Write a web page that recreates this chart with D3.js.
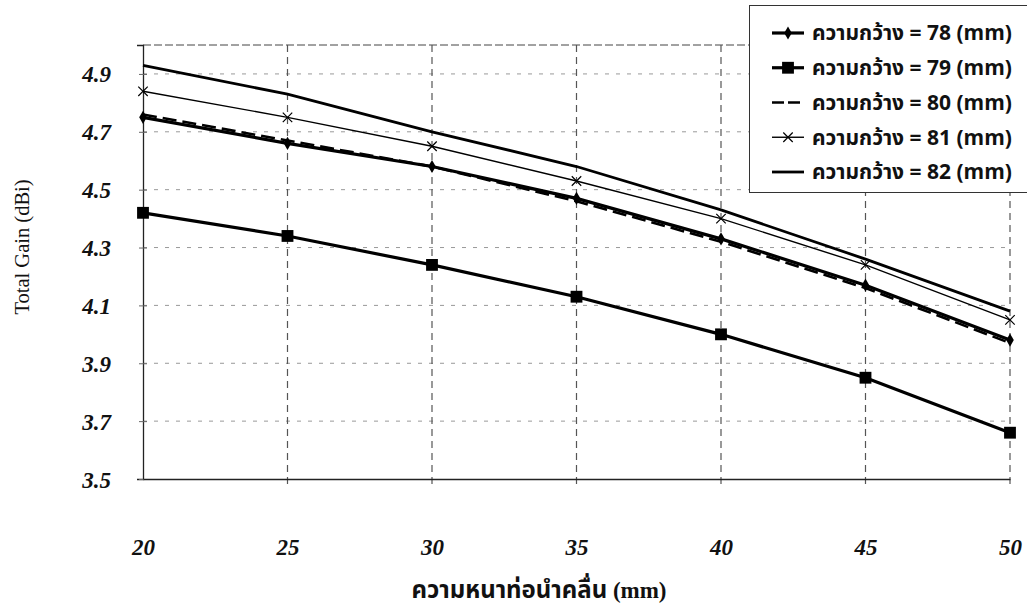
<!DOCTYPE html>
<html><head><meta charset="utf-8">
<script src="https://cdn.jsdelivr.net/npm/d3@7"></script>
<style>body{margin:0;background:#fff;overflow:hidden}</style>
</head><body><svg id="c" width="1027" height="616"></svg>
<script>
const thickness = [20, 25, 30, 35, 40, 45, 50];
const w78 = [4.75, 4.66, 4.58, 4.47, 4.33, 4.17, 3.98];
const w79 = [4.42, 4.34, 4.24, 4.13, 4.00, 3.85, 3.66];
const w80 = [4.76, 4.67, 4.58, 4.46, 4.32, 4.16, 3.97];
const w81 = [4.84, 4.75, 4.65, 4.53, 4.40, 4.24, 4.05];
const w82 = [4.93, 4.83, 4.70, 4.58, 4.43, 4.26, 4.08];
const seriesLabels = ["ความกว้าง = 78 (mm)", "ความกว้าง = 79 (mm)", "ความกว้าง = 80 (mm)", "ความกว้าง = 81 (mm)", "ความกว้าง = 82 (mm)"];
const yTicks = [3.5, 3.7, 3.9, 4.1, 4.3, 4.5, 4.7, 4.9];
const xTicks = [20, 25, 30, 35, 40, 45, 50];
const xTitleThai = "ความหนาท่อนำคลื่น";
const xTitleUnit = " (mm)";
const yTitle = "Total Gain (dBi)";

const styles = [
  {w: 3.2, dash: null, marker: "diamond"},
  {w: 3.2, dash: null, marker: "square"},
  {w: 2.6, dash: "14,6", marker: null},
  {w: 1.4, dash: null, marker: "times"},
  {w: 2.8, dash: null, marker: null}
];
const seriesData = [w78, w79, w80, w81, w82];

const svg = d3.select("#c");
const x = d3.scaleLinear().domain([20, 50]).range([143, 1010]);
const y = d3.scaleLinear().domain([3.5, 5.0]).range([479, 45]);

const tickFont = "'Liberation Serif','Times New Roman',serif";
const thaiFont = "'Noto Sans Thai','Tahoma','Liberation Sans Narrow','Liberation Sans',sans-serif";
const legendFont = "'Liberation Sans Narrow','Arial Narrow','Noto Sans Thai',sans-serif";

// horizontal gridlines
svg.append("g").selectAll("line").data(yTicks.slice(1)).join("line")
  .attr("x1", x(20)).attr("x2", x(50))
  .attr("y1", d => y(d)).attr("y2", d => y(d))
  .attr("stroke", "#999").attr("stroke-width", 1).attr("stroke-dasharray", "4,7");
// top border
svg.append("line").attr("x1", x(20)).attr("x2", x(50)).attr("y1", y(5.0)).attr("y2", y(5.0))
  .attr("stroke", "#444").attr("stroke-width", 1).attr("stroke-dasharray", "8,3");
// vertical gridlines
svg.append("g").selectAll("line").data(xTicks.slice(1)).join("line")
  .attr("x1", d => x(d)).attr("x2", d => x(d))
  .attr("y1", y(5.0)).attr("y2", y(3.5) + 8)
  .attr("stroke", "#555").attr("stroke-width", 1.2).attr("stroke-dasharray", "7,5");

// axes
const yAxis = d3.axisLeft(y).tickValues(yTicks).tickSize(6).tickFormat(d3.format(".1f"));
const gy = svg.append("g").attr("transform", `translate(${x(20)},0)`).call(yAxis);
gy.select(".domain").attr("stroke", "#222").attr("stroke-width", 1.3);
gy.selectAll(".tick line").attr("stroke", "#666").attr("x2", 4).attr("x1", -4);
gy.selectAll("text").attr("x", -32).attr("dy", "0.35em")
  .style("font-family", tickFont).style("font-style", "italic").style("font-weight", "bold")
  .style("font-size", "23px").attr("fill", "#111");

const xAxis = d3.axisBottom(x).tickValues(xTicks).tickSize(0).tickFormat(d3.format("d"));
const gx = svg.append("g").attr("transform", `translate(0,${y(3.5)})`).call(xAxis);
gx.select(".domain").attr("stroke", "#222").attr("stroke-width", 1.3);
gx.selectAll("text").attr("y", 68).attr("dy", "0.35em")
  .style("font-family", tickFont).style("font-style", "italic").style("font-weight", "bold")
  .style("font-size", "23px").attr("fill", "#111");

// titles
const xt = svg.append("text").attr("x", 539).attr("y", 598).attr("text-anchor", "middle")
  .style("font-weight", "bold").attr("fill", "#111");
xt.append("tspan").style("font-family", thaiFont).style("font-size", "24px").text(xTitleThai);
xt.append("tspan").style("font-family", tickFont).style("font-size", "23px").text(xTitleUnit);
svg.append("text").attr("transform", `translate(29,247) rotate(-90)`)
  .attr("text-anchor", "middle")
  .style("font-family", tickFont).style("font-size", "20.5px").attr("fill", "#111").text(yTitle);

// lines
const line = d3.line().x((d, i) => x(thickness[i])).y(d => y(d));
seriesData.forEach((vals, k) => {
  const st = styles[k];
  svg.append("path").datum(vals).attr("d", line).attr("fill", "none")
    .attr("stroke", "#000").attr("stroke-width", st.w)
    .attr("stroke-dasharray", st.dash);
});

function drawMarker(g, type, cx, cy) {
  if (type === "diamond") {
    g.append("path").attr("d", d3.symbol(d3.symbolDiamond, 50)())
      .attr("transform", `translate(${cx},${cy})`).attr("fill", "#000");
  } else if (type === "square") {
    g.append("path").attr("d", d3.symbol(d3.symbolSquare, 140)())
      .attr("transform", `translate(${cx},${cy})`).attr("fill", "#000");
  } else if (type === "times") {
    g.append("path").attr("d", d3.symbol(d3.symbolTimes, 60)())
      .attr("transform", `translate(${cx},${cy})`).attr("fill", "none")
      .attr("stroke", "#000").attr("stroke-width", 1.2);
  }
}
const mg = svg.append("g");
seriesData.forEach((vals, k) => {
  if (!styles[k].marker) return;
  vals.forEach((v, i) => drawMarker(mg, styles[k].marker, x(thickness[i]), y(v)));
});

// legend
const lg = svg.append("g");
lg.append("rect").attr("x", 749.5).attr("y", 5.5).attr("width", 290).attr("height", 187)
  .attr("fill", "#fff").attr("stroke", "#333").attr("stroke-width", 1);
const rowY = d3.scaleLinear().domain([0, 4]).range([33, 172]);
seriesLabels.forEach((lab, k) => {
  const st = styles[k];
  const yy = rowY(k);
  lg.append("line").attr("x1", 772).attr("x2", 804).attr("y1", yy).attr("y2", yy)
    .attr("stroke", "#000").attr("stroke-width", st.w)
    .attr("stroke-dasharray", st.dash ? "12,4" : null);
  if (st.marker) drawMarker(lg, st.marker, 788, yy);
  lg.append("text").attr("x", 812).attr("y", yy).attr("dy", "0.35em")
    .style("font-family", legendFont).style("font-weight", "bold").style("font-size", "21px")
    .attr("fill", "#111").text(lab);
});
</script></body></html>
